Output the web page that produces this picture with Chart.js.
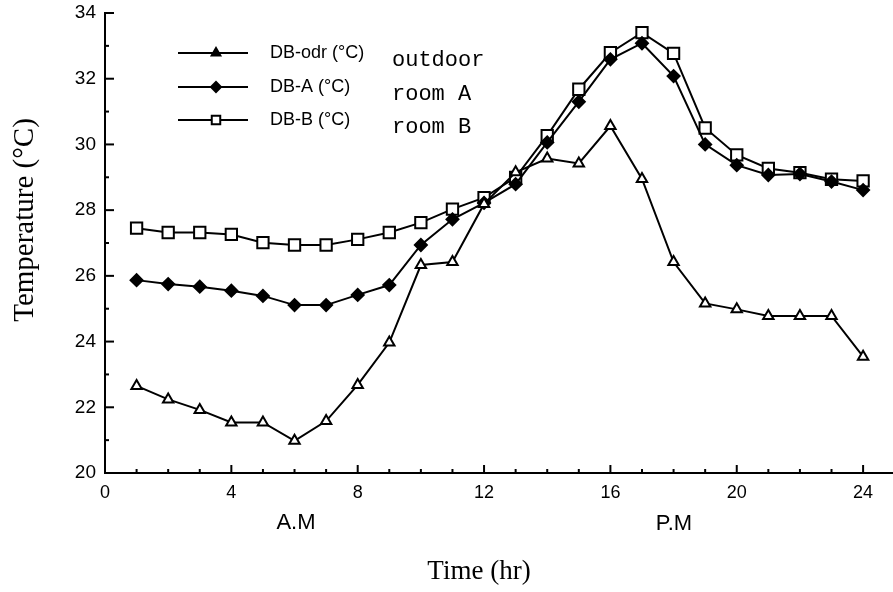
<!DOCTYPE html>
<html>
<head>
<meta charset="utf-8">
<script src="https://cdn.jsdelivr.net/npm/chart.js@4/dist/chart.umd.min.js"></script>
<style>
  html, body { margin: 0; padding: 0; background: #fff; overflow: hidden; }
  #wrap { width: 893px; height: 592px; position: relative; }
  canvas { display: block; }
</style>
</head>
<body>
<div id="wrap"><canvas id="chart"></canvas></div>
<script>
// hours of the day
const hours = [1, 2, 3, 4, 5, 6, 7, 8, 9, 10, 11, 12, 13, 14, 15, 16, 17, 18, 19, 20, 21, 22, 23, 24];

// dry bulb temperatures
const outdoor = [22.65, 22.24, 21.92, 21.54, 21.54, 20.98, 21.58, 22.68, 23.97, 26.33, 26.42, 28.19,
                 29.15, 29.57, 29.42, 30.56, 28.95, 26.42, 25.16, 24.98, 24.78, 24.78, 24.78, 23.54];
const roomA = [25.87, 25.75, 25.67, 25.55, 25.39, 25.11, 25.11, 25.42, 25.72, 26.94, 27.72, 28.22,
               28.79, 30.06, 31.3, 32.59, 33.08, 32.08, 30.0, 29.37, 29.07, 29.1, 28.87, 28.61];
const roomB = [27.45, 27.32, 27.32, 27.26, 27.01, 26.94, 26.94, 27.11, 27.32, 27.62, 28.03, 28.38,
               29.0, 30.27, 31.68, 32.79, 33.4, 32.77, 30.5, 29.68, 29.27, 29.14, 28.94, 28.89];

const seriesNames = ['DB-odr (°C)', 'DB-A (°C)', 'DB-B (°C)'];
const seriesNotes = ['outdoor', 'room A', 'room B'];

const yTickValues = [20, 22, 24, 26, 28, 30, 32, 34];
const xTickValues = [0, 4, 8, 12, 16, 20, 24];

function toPoints(values) {
  return values.map((v, i) => ({ x: hours[i], y: v }));
}

const markers = [
  { pointStyle: 'triangle', radius: 6, fill: '#fff', legendFill: '#000', legendRadius: 5 },
  { pointStyle: 'rectRot', radius: 6, fill: '#000', legendFill: '#000', legendRadius: 5 },
  { pointStyle: 'rect', radius: 8, fill: '#fff', legendFill: '#fff', legendRadius: 6 }
];

const datasets = [outdoor, roomA, roomB].map((vals, i) => ({
  label: seriesNames[i],
  data: toPoints(vals),
  borderColor: '#000',
  borderWidth: 2,
  pointStyle: markers[i].pointStyle,
  pointRadius: markers[i].radius,
  pointBackgroundColor: markers[i].fill,
  pointBorderColor: '#000',
  pointBorderWidth: 2,
  tension: 0
}));

// inward ticks, legend and text labels
const decorPlugin = {
  id: 'decor',
  afterDraw(chart) {
    const ctx = chart.ctx;
    const xs = chart.scales.x, ys = chart.scales.y;
    const area = chart.chartArea;
    ctx.save();
    ctx.strokeStyle = '#000';
    ctx.lineWidth = 2;

    // x axis line runs on to the edge of the figure
    ctx.beginPath();
    ctx.moveTo(area.right - 1, area.bottom);
    ctx.lineTo(chart.width, area.bottom);
    ctx.stroke();

    // y ticks, pointing right into the plot
    for (let v = 20; v <= 34; v++) {
      const py = ys.getPixelForValue(v);
      const len = v % 2 === 0 ? 9 : 4;
      ctx.beginPath();
      ctx.moveTo(area.left, py);
      ctx.lineTo(area.left + len, py);
      ctx.stroke();
    }
    // x ticks, pointing up into the plot
    for (let h = 1; h <= 24; h++) {
      const px = xs.getPixelForValue(h);
      const len = h % 4 === 0 ? 8 : 4;
      ctx.beginPath();
      ctx.moveTo(px, area.bottom);
      ctx.lineTo(px, area.bottom - len);
      ctx.stroke();
    }

    // legend
    const rows = [53, 87, 120];
    rows.forEach((ry, i) => {
      ctx.strokeStyle = '#000';
      ctx.lineWidth = 2;
      ctx.beginPath();
      ctx.moveTo(178, ry);
      ctx.lineTo(248, ry);
      ctx.stroke();
      ctx.fillStyle = markers[i].legendFill;
      Chart.helpers.drawPoint(ctx, {
        pointStyle: markers[i].pointStyle,
        radius: markers[i].legendRadius,
        rotation: 0,
        borderWidth: 2
      }, 216, ry);

      ctx.fillStyle = '#000';
      ctx.font = '18px "Liberation Sans", Arial, sans-serif';
      ctx.textAlign = 'left';
      ctx.textBaseline = 'middle';
      ctx.fillText(seriesNames[i], 270, ry);
      ctx.font = '22px "Liberation Mono", "Courier New", monospace';
      ctx.textBaseline = 'alphabetic';
      ctx.fillText(seriesNotes[i], 392, ry + 13);
    });

    // A.M / P.M
    ctx.fillStyle = '#000';
    ctx.font = '22px "Liberation Sans", Arial, sans-serif';
    ctx.textAlign = 'center';
    ctx.textBaseline = 'middle';
    ctx.fillText('A.M', 296, 523);
    ctx.fillText('P.M', 674, 524);

    // axis titles
    ctx.font = '27px "Liberation Serif", "Times New Roman", serif';
    ctx.fillText('Time (hr)', 479, 572);
    ctx.font = '29px "Liberation Serif", "Times New Roman", serif';
    ctx.translate(25, 220);
    ctx.rotate(-Math.PI / 2);
    ctx.fillText('Temperature (°C)', 0, 0);
    ctx.restore();
  }
};

new Chart(document.getElementById('chart'), {
  type: 'line',
  data: { datasets: datasets },
  options: {
    responsive: true,
    maintainAspectRatio: false,
    animation: false,
    layout: { padding: { top: 13, right: 0, left: 0, bottom: 0 } },
    plugins: {
      legend: { display: false },
      tooltip: { enabled: false }
    },
    scales: {
      x: {
        type: 'linear',
        min: 0,
        max: 24.63,
        afterFit(scale) {
          scale.height = 119;
          scale.paddingLeft = 0;
          scale.paddingRight = 0;
        },
        afterBuildTicks(scale) { scale.ticks = xTickValues.map(v => ({ value: v })); },
        grid: { display: true, drawOnChartArea: false, drawTicks: false },
        border: { display: true, color: '#000', width: 2 },
        ticks: {
          padding: 9,
          color: '#000',
          font: { family: '"Liberation Sans", Arial, sans-serif', size: 18 }
        }
      },
      y: {
        min: 20,
        max: 34,
        afterFit(scale) {
          scale.width = 105;
          scale.paddingTop = 0;
          scale.paddingBottom = 0;
        },
        afterBuildTicks(scale) { scale.ticks = yTickValues.map(v => ({ value: v })); },
        grid: { display: true, drawOnChartArea: false, drawTicks: false },
        border: { display: true, color: '#000', width: 2 },
        ticks: {
          padding: 9,
          color: '#000',
          font: { family: '"Liberation Sans", Arial, sans-serif', size: 19 }
        }
      }
    }
  },
  plugins: [decorPlugin]
});
</script>
</body>
</html>
